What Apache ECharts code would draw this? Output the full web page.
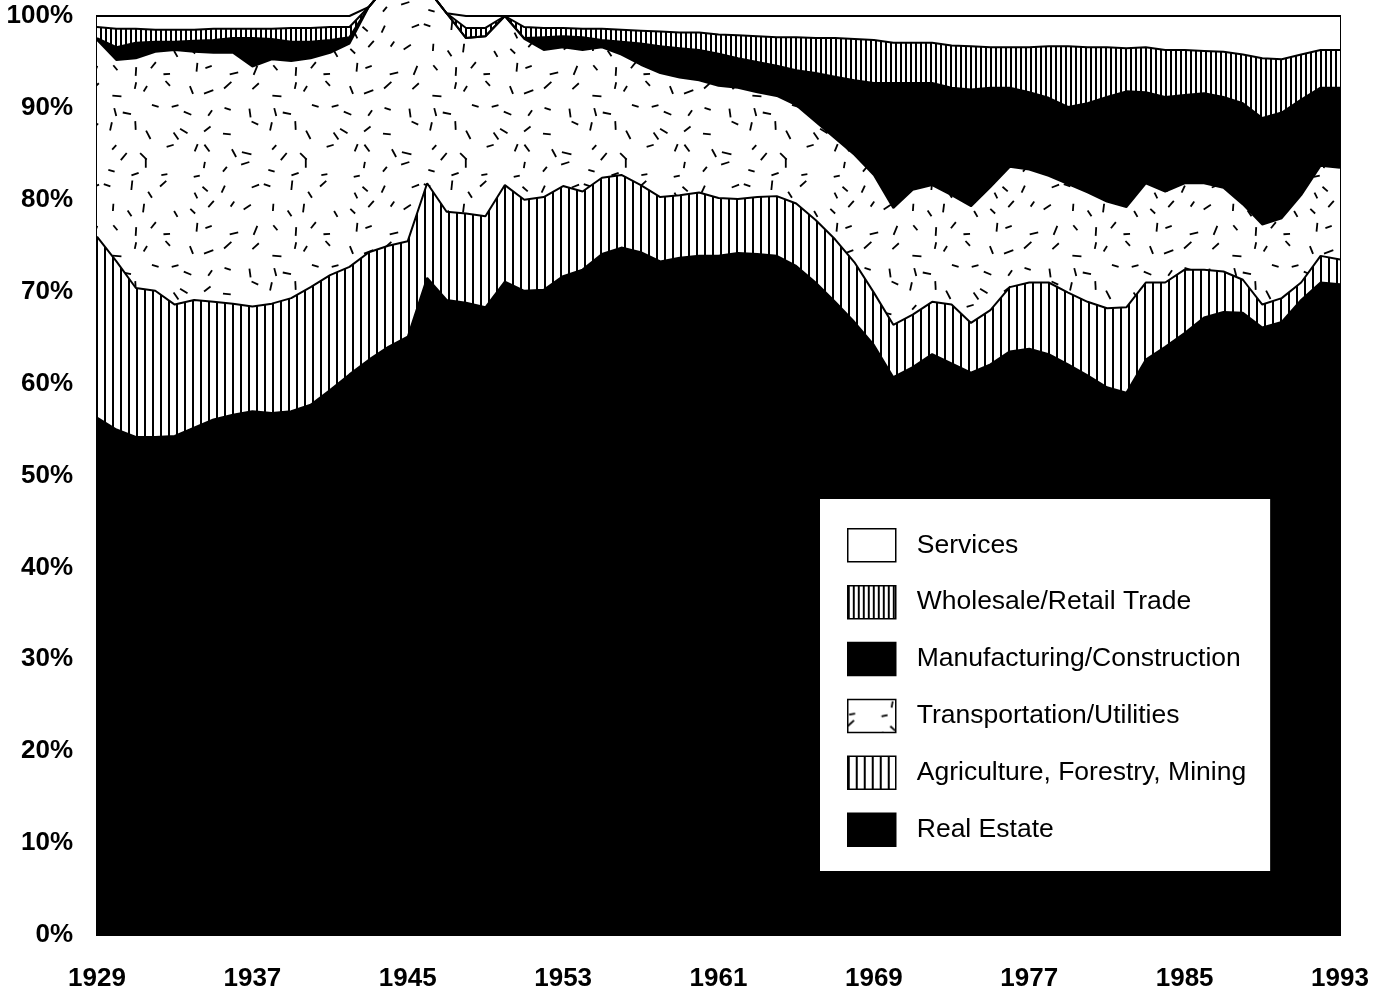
<!DOCTYPE html>
<html><head><meta charset="utf-8">
<script src="https://cdn.jsdelivr.net/npm/echarts@6/dist/echarts.min.js"></script>
<style>html,body{margin:0;padding:0;background:#fff}#c{width:1387px;height:992px}</style>
</head><body><div id="c"></div>
<script>
const years = ['1929','1930','1931','1932','1933','1934','1935','1936','1937','1938',
  '1939','1940','1941','1942','1943','1944','1945','1946','1947','1948',
  '1949','1950','1951','1952','1953','1954','1955','1956','1957','1958',
  '1959','1960','1961','1962','1963','1964','1965','1966','1967','1968',
  '1969','1970','1971','1972','1973','1974','1975','1976','1977','1978',
  '1979','1980','1981','1982','1983','1984','1985','1986','1987','1988',
  '1989','1990','1991','1992','1993'];

const realEstate = [56.3,55.0,54.2,54.2,54.3,55.2,56.1,56.6,57.0,56.8,
  57.0,57.7,59.3,61.0,62.6,64.0,65.1,71.5,69.1,68.8,
  68.3,71.1,70.1,70.2,71.7,72.4,74.1,74.8,74.3,73.3,
  73.7,73.9,73.9,74.2,74.1,73.9,72.8,71.0,68.9,66.7,
  64.2,60.7,61.8,63.2,62.2,61.2,62.1,63.5,63.8,63.2,
  62.1,60.9,59.6,59.0,62.6,64.0,65.5,67.2,67.8,67.7,
  66.1,66.7,69.1,71.0,70.8];
const agriculture = [19.7,18.3,16.2,15.9,14.3,13.9,12.8,12.1,11.4,11.9,
  12.3,12.8,12.5,11.7,11.7,11.0,10.4,10.3,9.6,9.7,
  9.9,10.5,9.9,10.1,9.8,8.5,8.3,7.9,7.3,7.0,
  6.8,6.9,6.3,5.9,6.2,6.5,6.8,6.8,6.8,6.5,
  5.7,5.7,5.7,5.7,6.4,5.4,5.9,7.0,7.2,7.8,
  7.8,8.0,8.6,9.3,8.4,7.0,6.9,5.2,4.4,3.6,
  2.5,2.6,1.9,2.9,2.7];
const transport = [21.4,21.9,25.0,26.0,27.7,27.0,27.1,27.3,26.1,26.6,
  25.8,24.9,24.2,24.3,26.7,28.5,29.5,21.2,21.6,19.1,
  19.6,18.4,17.5,16.0,15.1,15.4,14.2,13.1,13.1,13.5,
  12.8,12.2,12.2,12.1,11.4,10.9,10.7,10.7,11.0,11.7,
  12.8,12.7,13.6,12.7,11.9,12.7,13.4,13.1,12.3,11.6,
  11.8,11.9,11.6,10.9,10.8,9.9,9.4,9.4,9.1,8.2,
  8.7,8.7,9.5,9.8,10.0];
const manufacturing = [0.2,1.4,1.7,1.1,0.9,1.2,1.4,1.6,3.1,2.2,
  2.1,1.8,1.4,0.7,0,0,0,0,0,0,
  0,0,0.1,1.4,1.2,1.4,0.8,1.4,2.3,2.9,
  3.2,3.3,3.5,3.2,3.3,3.3,3.8,5.3,6.7,8.1,
  10.0,13.6,11.6,11.1,11.7,12.7,10.8,8.6,8.4,8.5,
  8.4,9.7,11.4,12.6,9.9,10.3,9.6,9.8,9.9,11.0,
  11.6,11.5,10.4,8.5,8.7];
const wholesale = [1.2,2.0,1.5,1.3,1.3,1.2,1.2,1.0,1.0,1.1,
  1.5,1.5,1.4,1.1,0,0,0,0,0,1.1,
  0.9,0,1.2,1.0,0.9,0.9,1.2,1.3,1.4,1.6,
  1.7,1.9,2.1,2.5,2.8,3.1,3.6,3.8,4.2,4.5,
  4.7,4.4,4.4,4.4,4.6,4.7,4.4,4.4,4.9,5.6,
  6.6,6.1,5.4,4.7,4.9,5.1,4.9,4.6,4.9,5.3,
  6.5,5.8,4.9,4.1,4.1];
const services = [1.2,1.4,1.4,1.5,1.5,1.5,1.4,1.4,1.4,1.4,
  1.3,1.3,1.2,1.2,0,0,0,0,0,1.3,
  1.3,0,1.2,1.3,1.3,1.4,1.4,1.5,1.6,1.7,
  1.8,1.8,2.0,2.1,2.2,2.3,2.3,2.4,2.4,2.5,
  2.6,2.9,2.9,2.9,3.2,3.3,3.4,3.4,3.4,3.3,
  3.3,3.4,3.4,3.5,3.4,3.7,3.7,3.8,3.9,4.2,
  4.6,4.7,4.2,3.7,3.7];

const FONT = "'Liberation Sans', Arial, Helvetica, sans-serif";

function stripeTile(period, lw) {
  const c = document.createElement('canvas');
  c.width = period; c.height = 8;
  const g = c.getContext('2d');
  g.fillStyle = '#fff'; g.fillRect(0, 0, period, 8);
  g.fillStyle = '#000'; g.fillRect(0, 0, lw, 8);
  return c;
}
function dashTile() {
  const s = 160, c = document.createElement('canvas');
  c.width = s; c.height = s;
  const g = c.getContext('2d');
  g.fillStyle = '#fff'; g.fillRect(0, 0, s, s);
  g.strokeStyle = '#000'; g.lineWidth = 1.8;
  let seed = 12345;
  const rnd = () => { seed = (seed * 16807) % 2147483647; return seed / 2147483647; };
  const n = 8, cell = s / n;
  for (let i = 0; i < n; i++) for (let j = 0; j < n; j++) {
    const x = (i + 0.15 + 0.7 * rnd()) * cell, y = (j + 0.15 + 0.7 * rnd()) * cell;
    const a = rnd() * Math.PI, L = 6 + 4 * rnd();
    const dx = Math.cos(a) * L / 2, dy = Math.sin(a) * L / 2;
    for (const ox of [-s, 0, s]) for (const oy of [-s, 0, s]) {
      g.beginPath(); g.moveTo(x - dx + ox, y - dy + oy); g.lineTo(x + dx + ox, y + dy + oy); g.stroke();
    }
  }
  return c;
}

const black = '#000';
const white = '#fff';
const agriPat = { image: stripeTile(8, 2), repeat: 'repeat' };
const wholePat = { image: stripeTile(5, 2), repeat: 'repeat' };
const transPat = { image: dashTile(), repeat: 'repeat' };

function mk(name, data, fill) {
  return {
    name, type: 'line', stack: 'total', data,
    symbol: 'none', showSymbol: false, clip: false,
    lineStyle: { color: '#000', width: 2 },
    areaStyle: { color: fill, opacity: 1 },
    itemStyle: { color: fill },
    emphasis: { disabled: true }
  };
}

const chart = echarts.init(document.getElementById('c'), null, { renderer: 'canvas' });
chart.setOption({
  animation: false,
  backgroundColor: '#fff',
  grid: { left: 97, right: 47, top: 16, bottom: 56, show: true, borderColor: '#000', borderWidth: 2, backgroundColor: 'transparent' },
  xAxis: {
    type: 'category', data: years, boundaryGap: false,
    axisLine: { show: false }, axisTick: { show: false }, splitLine: { show: false },
    axisLabel: { interval: 7, margin: 31, color: '#000', fontFamily: FONT, fontWeight: 'bold', fontSize: 26 }
  },
  yAxis: {
    type: 'value', min: 0, max: 100, interval: 10,
    axisLine: { show: false }, axisTick: { show: false }, splitLine: { show: false },
    axisLabel: { formatter: '{value}%', margin: 24, color: '#000', fontFamily: FONT, fontWeight: 'bold', fontSize: 26 }
  },
  legend: {
    orient: 'vertical', left: 820, top: 499,
    icon: 'rect', itemWidth: 48, itemHeight: 33, itemGap: 22.4,
    padding: [29, 24, 24, 27],
    backgroundColor: '#fff', borderWidth: 0,
    selectedMode: false,
    textStyle: { color: '#000', fontFamily: FONT, fontSize: 26.5, padding: [0, 0, 0, 16] },
    data: [
      { name: 'Services', itemStyle: { color: white, borderColor: '#000', borderWidth: 1.5 } },
      { name: 'Wholesale/Retail Trade', itemStyle: { color: wholePat, borderColor: '#000', borderWidth: 1.5 } },
      { name: 'Manufacturing/Construction', itemStyle: { color: black, borderColor: '#000', borderWidth: 1.5 } },
      { name: 'Transportation/Utilities', itemStyle: { color: transPat, borderColor: '#000', borderWidth: 1.5 } },
      { name: 'Agriculture, Forestry, Mining', itemStyle: { color: agriPat, borderColor: '#000', borderWidth: 1.5 } },
      { name: 'Real Estate', itemStyle: { color: black, borderColor: '#000', borderWidth: 1.5 } }
    ]
  },
  series: [
    mk('Real Estate', realEstate, black),
    mk('Agriculture, Forestry, Mining', agriculture, agriPat),
    mk('Transportation/Utilities', transport, transPat),
    mk('Manufacturing/Construction', manufacturing, black),
    mk('Wholesale/Retail Trade', wholesale, wholePat),
    mk('Services', services, white)
  ]
});
</script></body></html>
